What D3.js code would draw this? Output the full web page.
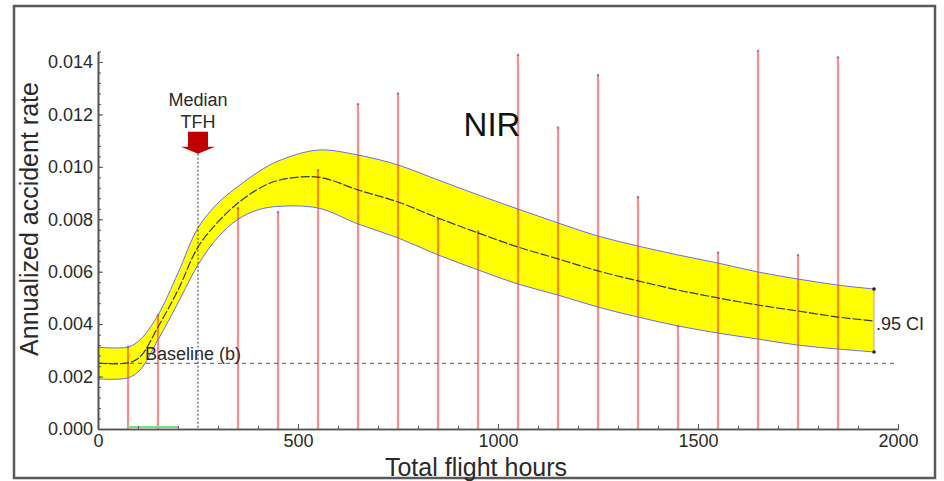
<!DOCTYPE html>
<html>
<head>
<meta charset="utf-8">
<script src="https://cdn.jsdelivr.net/npm/d3@7"></script>
<style>
  body { margin: 0; background: #fff; }
  text { font-family: "Liberation Sans", Arial, sans-serif; fill: #2a2a2a; }
</style>
</head>
<body>
<div id="content"></div>
<script>
// red bars: annualized accident rate per 100 h bin
var binHours = [75, 150, 350, 450, 550, 650, 750, 850, 950, 1050, 1150, 1250, 1350, 1450, 1550, 1650, 1750, 1850];
var binRates = [0.00314, 0.00435, 0.00843, 0.00828, 0.00988, 0.0124, 0.0128, 0.0080, 0.00753, 0.01427, 0.0115, 0.0135, 0.00885, 0.00393, 0.00673, 0.01443, 0.00664, 0.01418];

// fitted curve and .95 CI
var curveHours = [0, 75, 105, 150, 200, 250, 300, 350, 400, 450, 550, 650, 750, 850, 950, 1050, 1150, 1250, 1350, 1450, 1550, 1650, 1750, 1850, 1940];
var curveMean  = [0.00251, 0.00252, 0.00275, 0.00389, 0.0053, 0.00694, 0.0079, 0.00862, 0.00915, 0.00948, 0.00961, 0.00912, 0.00866, 0.00805, 0.00748, 0.00694, 0.00649, 0.00603, 0.00565, 0.0053, 0.005, 0.00473, 0.0045, 0.00427, 0.00412];
var curveUpper = [0.00312, 0.00313, 0.0034, 0.00435, 0.00595, 0.00767, 0.00862, 0.00925, 0.0098, 0.01022, 0.01064, 0.01045, 0.01007, 0.0095, 0.00893, 0.00839, 0.00786, 0.00736, 0.00698, 0.00664, 0.00633, 0.00599, 0.00572, 0.00549, 0.00534];
var curveLower = [0.00191, 0.00195, 0.00225, 0.0034, 0.00481, 0.00626, 0.00732, 0.00800, 0.00836, 0.00849, 0.00843, 0.00782, 0.00729, 0.00664, 0.00607, 0.00553, 0.00511, 0.00465, 0.00427, 0.00393, 0.00366, 0.00343, 0.0032, 0.00305, 0.00294];

var baselineRate = 0.0025;
var medianTFH = 250;
var greenRange = [75, 200];

var xTicks = [0, 500, 1000, 1500, 2000];
var yTicks = [0, 0.002, 0.004, 0.006, 0.008, 0.010, 0.012, 0.014];

var W = 944, H = 481;
var svg = d3.select("#content").append("svg")
    .attr("width", W)
    .attr("height", H);

// outer frame
svg.append("rect")
    .attr("x", 14).attr("y", 6)
    .attr("width", 921).attr("height", 472)
    .attr("fill", "#fff")
    .attr("stroke", "#5a5a5a")
    .attr("stroke-width", 2.5);

var x = d3.scaleLinear().domain([0, 2000]).range([98, 898]);
var y = d3.scaleLinear().domain([0, 0.0144]).range([429, 51.5]);

var pts = curveHours.map(function(h, i){
    return {h: h, m: curveMean[i], u: curveUpper[i], l: curveLower[i]};
});
var smooth = d3.curveCatmullRom.alpha(0.5);

// CI band
svg.append("path")
    .datum(pts)
    .attr("d", d3.area()
        .x(function(d){ return x(d.h); })
        .y0(function(d){ return y(d.l); })
        .y1(function(d){ return y(d.u); })
        .curve(smooth))
    .attr("fill", "#ffff00");

// baseline
svg.append("line")
    .attr("x1", x(0)).attr("x2", x(2000))
    .attr("y1", y(baselineRate)).attr("y2", y(baselineRate))
    .attr("stroke", "#777")
    .attr("stroke-width", 1.2)
    .attr("stroke-dasharray", "4,4");

// red bars
svg.selectAll(".bar")
    .data(binHours)
    .enter().append("line")
    .attr("class", "bar")
    .attr("x1", function(d){ return x(d); })
    .attr("x2", function(d){ return x(d); })
    .attr("y1", y(0))
    .attr("y2", function(d, i){ return y(binRates[i]); })
    .attr("stroke", "#ff0000")
    .attr("stroke-opacity", 0.45)
    .attr("stroke-width", 2.2);

svg.selectAll(".tip")
    .data(binHours)
    .enter().append("circle")
    .attr("class", "tip")
    .attr("cx", function(d){ return x(d); })
    .attr("cy", function(d, i){ return y(binRates[i]); })
    .attr("r", 1.3)
    .attr("fill", "#4040a0")
    .attr("opacity", 0.5);

// band edges and mean
function edge(key){
    return d3.line()
        .x(function(d){ return x(d.h); })
        .y(function(d){ return y(d[key]); })
        .curve(smooth);
}
svg.append("path").datum(pts).attr("d", edge("u"))
    .attr("fill", "none").attr("stroke", "#6a6aff").attr("stroke-width", 1);
svg.append("path").datum(pts).attr("d", edge("l"))
    .attr("fill", "none").attr("stroke", "#6a6aff").attr("stroke-width", 1);
svg.append("path").datum(pts).attr("d", edge("m"))
    .attr("fill", "none").attr("stroke", "#3a3a3a").attr("stroke-width", 1.2)
    .attr("stroke-dasharray", "9,2");

// green segment
svg.append("line")
    .attr("x1", x(greenRange[0])).attr("x2", x(greenRange[1]))
    .attr("y1", y(0) - 2).attr("y2", y(0) - 2)
    .attr("stroke", "#7ddc7d")
    .attr("stroke-width", 2);

// median TFH marker
var tipY = y(0.0105);
var mx = x(medianTFH);
svg.append("line")
    .attr("x1", mx).attr("x2", mx)
    .attr("y1", tipY).attr("y2", y(0))
    .attr("stroke", "#333")
    .attr("stroke-width", 1)
    .attr("stroke-dasharray", "2,2");

var ap = d3.path();
ap.moveTo(mx - 10, tipY - 22);
ap.lineTo(mx + 10, tipY - 22);
ap.lineTo(mx + 10, tipY - 7);
ap.lineTo(mx + 17, tipY - 7);
ap.lineTo(mx, tipY);
ap.lineTo(mx - 17, tipY - 7);
ap.lineTo(mx - 10, tipY - 7);
ap.closePath();
svg.append("path").attr("d", ap.toString()).attr("fill", "#c00000");

svg.append("text").attr("x", mx).attr("y", 106)
    .attr("text-anchor", "middle").style("font-size", "18px").text("Median");
svg.append("text").attr("x", mx).attr("y", 128)
    .attr("text-anchor", "middle").style("font-size", "18px").text("TFH");

// CI bracket at right end
var endH = curveHours[curveHours.length - 1];
var endU = curveUpper[curveUpper.length - 1], endL = curveLower[curveLower.length - 1];
svg.append("line")
    .attr("x1", x(endH)).attr("x2", x(endH))
    .attr("y1", y(endU)).attr("y2", y(endL))
    .attr("stroke", "#aaa").attr("stroke-width", 1);
svg.selectAll(".ciend")
    .data([endU, endL])
    .enter().append("circle")
    .attr("cx", x(endH)).attr("cy", function(d){ return y(d); })
    .attr("r", 1.8).attr("fill", "#222");
svg.append("text").attr("x", x(endH) + 2).attr("y", 330)
    .style("font-size", "18px").text(".95 CI");

// labels
svg.append("text").attr("x", 145).attr("y", 360)
    .style("font-size", "18px").text("Baseline (b)");
svg.append("text").attr("x", 492).attr("y", 136)
    .attr("text-anchor", "middle").style("font-size", "33px").style("fill", "#111").text("NIR");

// axes
var xAxis = d3.axisBottom(x).tickValues(xTicks).tickSizeInner(-5).tickSizeOuter(0).tickPadding(5).tickFormat(d3.format("d"));
var xMinor = d3.axisBottom(x).tickValues(d3.range(0, 2001, 100)).tickSizeInner(-3).tickSizeOuter(0).tickFormat("");
var yAxis = d3.axisLeft(y).tickValues(yTicks).tickSizeInner(-5).tickSizeOuter(0).tickPadding(5).tickFormat(d3.format(".3f"));
var yMinor = d3.axisLeft(y).tickValues(d3.range(0, 0.01441, 0.0004)).tickSizeInner(-3).tickSizeOuter(0).tickFormat("");

function styleAxis(g){
    g.selectAll("path").attr("stroke", "#555").attr("stroke-width", 1.6);
    g.selectAll("line").attr("stroke", "#555");
    g.selectAll("text").style("font-size", "18px").style("font-family", "Liberation Sans, Arial, sans-serif").attr("fill", "#2a2a2a");
}
svg.append("g").attr("transform", "translate(0," + y(0) + ")").call(xMinor).call(styleAxis);
svg.append("g").attr("transform", "translate(0," + y(0) + ")").call(xAxis).call(styleAxis);
svg.append("g").attr("transform", "translate(" + x(0) + ",0)").call(yMinor).call(styleAxis);
svg.append("g").attr("transform", "translate(" + x(0) + ",0)").call(yAxis).call(styleAxis);

svg.append("text").attr("x", 476).attr("y", 476)
    .attr("text-anchor", "middle").style("font-size", "25px").text("Total flight hours");
svg.append("text")
    .attr("transform", "translate(38,219) rotate(-90)")
    .attr("text-anchor", "middle").style("font-size", "25px").text("Annualized accident rate");
</script>
</body>
</html>
